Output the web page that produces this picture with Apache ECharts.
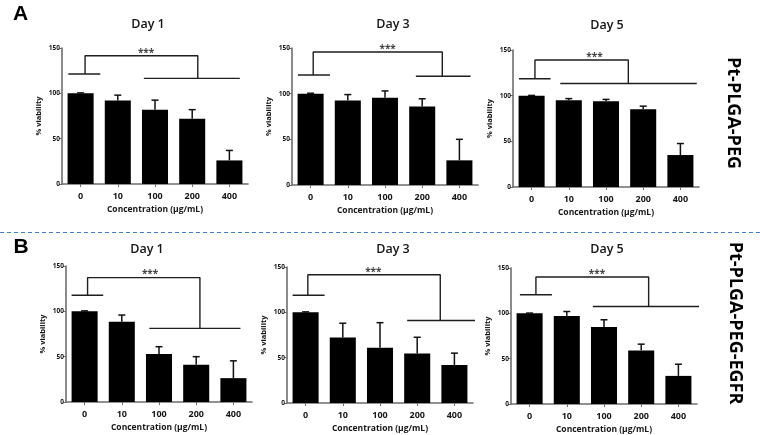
<!DOCTYPE html>
<html>
<head>
<meta charset="utf-8">
<script src="https://cdn.jsdelivr.net/npm/echarts@6/dist/echarts.min.js"></script>
<style>html,body{margin:0;padding:0;background:#fff}#c{width:760px;height:435px}</style>
</head>
<body>
<div id="c"></div>
<script>
// ---- data ----
const categories = ['0', '10', '100', '200', '400'];
const dayTitles = ['Day 1', 'Day 3', 'Day 5'];
const rowLabels = ['Pt-PLGA-PEG', 'Pt-PLGA-PEG-EGFR'];
const panelLetters = ['A', 'B'];

const pegDay1 = [100, 92, 82, 72, 26];
const pegDay1Sd = [0.5, 6, 10.5, 10, 11];
const pegDay3 = [100, 92.6, 95.5, 86, 27];
const pegDay3Sd = [0.5, 6.4, 7.5, 8.4, 23];
const pegDay5 = [100, 95, 94, 85, 35];
const pegDay5Sd = [0.3, 1.8, 1.9, 3.5, 12.6];

const egfrDay1 = [100, 88.5, 53, 41, 26.3];
const egfrDay1Sd = [0.5, 7.4, 8, 9, 19.1];
const egfrDay3 = [100, 72.2, 60.8, 54.5, 41.8];
const egfrDay3Sd = [0.5, 15.8, 27.8, 18, 13.2];
const egfrDay5 = [100, 97, 84.8, 59, 31];
const egfrDay5Sd = [0.3, 5, 8.1, 7, 12.9];

// significance brackets, in (category index, % viability) units
// [leftFrom, leftTo, leftY, leftDropX, topY, rightDropX, rightFrom, rightTo, rightY, starX, starY]
const bracketPegDay1 = [-0.33, 0.53, 121.3, 0.12, 141.5, 3.15, 1.70, 4.28, 116.5, 1.76, 147];
const bracketPegDay3 = [-0.34, 0.52, 120.4, 0.07, 145.6, 3.54, 2.83, 4.30, 119, 2.07, 150.5];
const bracketPegDay5 = [-0.34, 0.51, 118.5, 0.09, 139, 2.60, 0.77, 4.44, 113.4, 1.69, 144.5];
const bracketEgfrDay1 = [-0.35, 0.50, 117.8, 0.08, 137.2, 3.10, 1.74, 4.19, 81.2, 1.76, 143];
const bracketEgfrDay3 = [-0.35, 0.51, 118.8, 0.06, 141.5, 3.62, 2.73, 5.26, 91, 1.82, 146];
const bracketEgfrDay5 = [-0.26, 0.60, 120.5, 0.17, 140, 3.20, 1.70, 4.64, 107.6, 1.81, 145];

// ---- layout ----
const panels = [
  {mean: pegDay1, sd: pegDay1Sd, br: bracketPegDay1, grid: {left: 62, top: 48, width: 186, height: 136}, title: [148, 24]},
  {mean: pegDay3, sd: pegDay3Sd, br: bracketPegDay3, grid: {left: 292, top: 48, width: 186, height: 137}, title: [393, 24]},
  {mean: pegDay5, sd: pegDay5Sd, br: bracketPegDay5, grid: {left: 513, top: 50, width: 186, height: 137}, title: [607, 25]},
  {mean: egfrDay1, sd: egfrDay1Sd, br: bracketEgfrDay1, grid: {left: 66, top: 266, width: 186, height: 136}, title: [147, 249]},
  {mean: egfrDay3, sd: egfrDay3Sd, br: bracketEgfrDay3, grid: {left: 287, top: 267, width: 186, height: 136}, title: [393, 249]},
  {mean: egfrDay5, sd: egfrDay5Sd, br: bracketEgfrDay5, grid: {left: 511, top: 268, width: 186, height: 136}, title: [607, 249]}
];

const FONT = '"Open Sans", sans-serif';
const AXIS_COLOR = '#6e6e6e';
const INK = '#151515';

const grid = [], xAxis = [], yAxis = [], series = [], graphic = [];
const N = panels.length;

panels.forEach((p, i) => {
  grid.push(Object.assign({containLabel: false}, p.grid));
  xAxis.push({
    type: 'category', gridIndex: i, data: categories,
    axisLine: {onZero: false, lineStyle: {color: AXIS_COLOR, width: 1.6}},
    axisTick: {show: true, alignWithLabel: true, length: 3, lineStyle: {color: AXIS_COLOR, width: 1}},
    axisLabel: {color: INK, fontFamily: FONT, fontWeight: 'bold', fontSize: 9, margin: 8},
    name: 'Concentration (μg/mL)', nameLocation: 'middle', nameGap: 21,
    nameTextStyle: {color: INK, fontFamily: FONT, fontWeight: 'bold', fontSize: 8.5}
  });
  yAxis.push({
    type: 'value', gridIndex: i, min: 0, max: 150, interval: 50,
    axisLine: {show: true, onZero: false, lineStyle: {color: AXIS_COLOR, width: 1.6}},
    axisTick: {show: true, length: 3, lineStyle: {color: AXIS_COLOR, width: 1}},
    splitLine: {show: false},
    axisLabel: {color: INK, fontFamily: FONT, fontWeight: 'bold', fontSize: 6.5, margin: 2},
    name: '% viability', nameLocation: 'middle', nameGap: 19, nameRotate: 90,
    nameTextStyle: {color: INK, fontFamily: FONT, fontWeight: 'bold', fontSize: 7.5}
  });

  series.push({
    type: 'bar', xAxisIndex: i, yAxisIndex: i, data: p.mean,
    barWidth: '70%', itemStyle: {color: '#000'}, silent: true
  });
  series.push({
    type: 'custom', xAxisIndex: i, yAxisIndex: i,
    encode: {x: 0, y: [1, 2]},
    data: p.mean.map((m, k) => [k, m, m + p.sd[k]]),
    renderItem: (params, api) => {
      const x = api.value(0), m = api.value(1), t = api.value(2);
      const a = api.coord([x, m]), b = api.coord([x, t]);
      const hw = 3.5;
      const st = {stroke: '#111', lineWidth: 1.5};
      return {type: 'group', children: [
        {type: 'line', shape: {x1: a[0], y1: a[1], x2: b[0], y2: b[1]}, style: st},
        {type: 'line', shape: {x1: b[0] - hw, y1: b[1], x2: b[0] + hw, y2: b[1]}, style: st}
      ]};
    },
    z: 3
  });
  graphic.push({
    type: 'text', x: p.title[0], y: p.title[1],
    style: {text: dayTitles[i % 3], fill: INK, font: '600 12.5px ' + FONT, textAlign: 'center', textVerticalAlign: 'middle'}
  });
});

// hidden value x axes used to place brackets
panels.forEach((p, i) => {
  xAxis.push({type: 'value', gridIndex: i, min: -0.5, max: 4.5, show: false, axisLine: {onZero: false}});
  const b = p.br;
  const ls = {color: '#1e1e1e', width: 1.4};
  const common = {type: 'line', xAxisIndex: N + i, yAxisIndex: i, symbol: 'none', clip: false, silent: true, lineStyle: ls, z: 4};
  series.push(Object.assign({}, common, {data: [[b[0], b[2]], [b[1], b[2]]]}));
  series.push(Object.assign({}, common, {data: [[b[6], b[8]], [b[7], b[8]]]}));
  series.push(Object.assign({}, common, {data: [[b[3], b[2]], [b[3], b[4]], [b[5], b[4]], [b[5], b[8]]]}));
  series.push({
    type: 'scatter', xAxisIndex: N + i, yAxisIndex: i, symbolSize: 0, clip: false, silent: true,
    data: [[b[9], b[10]]],
    label: {show: true, position: 'inside', formatter: '***', color: INK, fontFamily: FONT, fontSize: 10, fontWeight: 'bold', offset: [0, 2]}
  });
});

// panel letters, row labels, separator
graphic.push({type: 'text', x: 20.5, y: 14, style: {text: panelLetters[0], fill: '#000', font: 'bold 21px "Liberation Sans", Arial, sans-serif', textAlign: 'center', textVerticalAlign: 'middle'}});
graphic.push({type: 'text', x: 21, y: 247, style: {text: panelLetters[1], fill: '#000', font: 'bold 21px "Liberation Sans", Arial, sans-serif', textAlign: 'center', textVerticalAlign: 'middle'}});
graphic.push({type: 'text', x: 733, y: 113, rotation: -Math.PI / 2, style: {text: rowLabels[0], fill: '#000', font: 'bold 18px ' + FONT, textAlign: 'center', textVerticalAlign: 'middle'}});
graphic.push({type: 'text', x: 735, y: 323, rotation: -Math.PI / 2, style: {text: rowLabels[1], fill: '#000', font: 'bold 18px ' + FONT, textAlign: 'center', textVerticalAlign: 'middle'}});
graphic.push({type: 'line', shape: {x1: 0, y1: 232.5, x2: 760, y2: 232.5}, style: {stroke: '#3f7fd6', lineWidth: 1, lineDash: [4, 3]}});

const chart = echarts.init(document.getElementById('c'), null, {renderer: 'canvas'});
chart.setOption({animation: false, backgroundColor: '#fff', grid, xAxis, yAxis, series, graphic});
</script>
</body>
</html>
